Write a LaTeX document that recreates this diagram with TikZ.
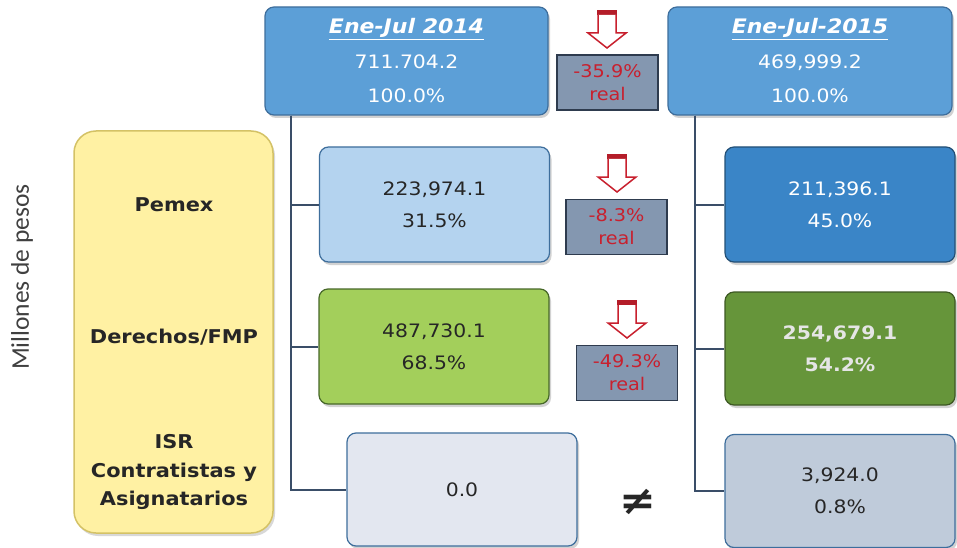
\documentclass[tikz,border=0pt]{standalone}
\usepackage{fontspec}
\setmainfont{DejaVu Sans}[FakeStretch=1.1]
\newfontfamily\carlito{Carlito}
\usetikzlibrary{shadows}

\definecolor{topblue}{HTML}{5C9FD7}
\definecolor{topedge}{HTML}{3E6E9C}
\definecolor{paleblue}{HTML}{B4D3EF}
\definecolor{deepblue}{HTML}{3A85C7}
\definecolor{palegreen}{HTML}{A3CF5B}
\definecolor{deepgreen}{HTML}{66953A}
\definecolor{palegray}{HTML}{E3E7F0}
\definecolor{slategray}{HTML}{BFCBDA}
\definecolor{tasagray}{HTML}{8497B0}
\definecolor{tasaedge}{HTML}{2E3B4E}
\definecolor{conceptfill}{HTML}{FFF1A3}
\definecolor{conceptedge}{HTML}{D4C266}
\definecolor{tasared}{HTML}{C8202E}
\definecolor{treeline}{HTML}{3A4E68}
\definecolor{darktext}{HTML}{262626}

\tikzset{
  caja/.style={rounded corners=9pt, line width=1.2pt, inner sep=0pt, align=center,
    minimum width=230pt, minimum height=115pt,
    drop shadow={shadow xshift=2pt, shadow yshift=-3pt, opacity=0.35},
    font=\fontsize{18.5}{32}\selectfont},
  tasa/.style={draw=tasaedge, fill=tasagray, line width=1.5pt, inner sep=0pt, align=center,
    minimum width=101pt, minimum height=55pt, text=tasared,
    font=\fontsize{17.5}{23}\selectfont},
  etiqueta/.style={align=center, text=darktext, font=\fontsize{19}{28.5}\selectfont\bfseries},
  tree/.style={draw=treeline, line width=2pt}
}

\begin{document}
\begin{tikzpicture}[x=1pt, y=-1pt]
\useasboundingbox[fill=white] (0,0) rectangle (957,548);

% eje vertical
\node[rotate=90, text=black!75, font=\carlito\fontsize{25.5}{25.5}\selectfont] (ylabel) at (22,277) {Millones de pesos};

% conceptos
\node[draw=conceptedge, fill=conceptfill, line width=1.5pt, rounded corners=22pt,
  minimum width=199pt, minimum height=402pt,
  drop shadow={shadow xshift=2pt, shadow yshift=-3pt, opacity=0.3}] (conceptos) at (173.5,332) {};
\node[etiqueta] (lblpemex) at (174,205) {Pemex};
\node[etiqueta] (lblder) at (174,337) {Derechos/FMP};
\node[etiqueta] (lblisr) at (174,472) {ISR\\Contratistas y\\Asignatarios};

% totales
\node[caja, fill=topblue, draw=topedge, text=white, minimum width=283pt, minimum height=108pt,
  font=\fontsize{18.5}{34.5}\selectfont] (jul14) at (406.5,61)
  {{\fontsize{20}{34.5}\selectfont\bfseries\itshape\underline{Ene-Jul 2014}}\\711.704.2\\100.0\%};
\node[caja, fill=topblue, draw=topedge, text=white, minimum width=284pt, minimum height=108pt,
  font=\fontsize{18.5}{34.5}\selectfont] (jul15) at (810,61)
  {{\fontsize{20}{34.5}\selectfont\bfseries\itshape\underline{Ene-Jul-2015}}\\469,999.2\\100.0\%};

% 2014
\node[caja, fill=paleblue, draw=topedge, text=darktext] (pemex14) at (434.5,204.5) {223,974.1\\31.5\%};
\node[caja, fill=palegreen, draw=deepgreen!70!black, text=darktext] (der14) at (434,346.5) {487,730.1\\68.5\%};
\node[caja, fill=palegray, draw=topedge, text=darktext, minimum height=113pt] (isr14) at (462,489.5) {0.0};

% 2015
\node[caja, fill=deepblue, draw=deepblue!60!black, text=white] (pemex15) at (840,204.5) {211,396.1\\45.0\%};
\node[caja, fill=deepgreen, draw=deepgreen!60!black, text=black!10, minimum height=113pt,
  font=\fontsize{18.5}{32}\selectfont\bfseries] (der15) at (840,348.5) {254,679.1\\54.2\%};
\node[caja, fill=slategray, draw=topedge, text=darktext, minimum height=113pt] (isr15) at (840,491) {3,924.0\\0.8\%};

% variaciones
\node[tasa] (var1) at (607.5,82.5) {-35.9\%\\real};
\node[tasa] (var2) at (616.5,227) {-8.3\%\\real};
\node[tasa] (var3) at (627,373) {-49.3\%\\real};
\node[text=darktext, font=\fontsize{40}{40}\selectfont\bfseries] (neq) at (638,502) {≠};

% flechas
\foreach \ax/\ay in {607/10, 617/154, 627/300}{
  \begin{scope}[shift={(\ax,\ay)}]
  \fill[tasared!90!black] (-10,0) rectangle (10,5);
  \draw[tasared, line width=1.5pt, fill=white] (-9,5) -- (-9,23) -- (-19,23) -- (0,38) -- (19,23) -- (9,23) -- (9,5);
  \end{scope}
}

% arbol
\foreach \n in {pemex, der, isr}{
  \draw[tree] ([xshift=27pt]jul14.south west) |- (\n14.west);
  \draw[tree] ([xshift=28pt]jul15.south west) |- (\n15.west);
}

\end{tikzpicture}
\end{document}
